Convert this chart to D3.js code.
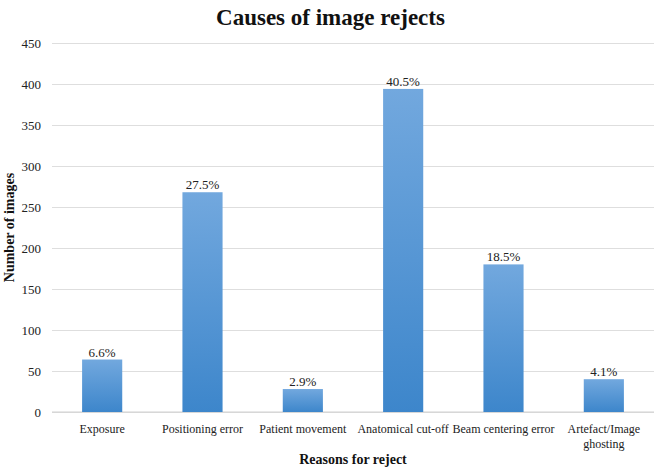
<!DOCTYPE html>
<html>
<head>
<meta charset="utf-8">
<script src="https://cdn.jsdelivr.net/npm/d3@7"></script>
<style>
  body { margin: 0; background: #fff; }
  text { font-family: "Liberation Serif", "Times New Roman", serif; }
</style>
</head>
<body>
<svg id="chart"></svg>
<script>
// data
const reasons = ["Exposure", "Positioning error", "Patient movement", "Anatomical cut-off", "Beam centering error", "Artefact/Image ghosting"];
const counts = [64, 268, 28, 394, 180, 40];
const shares = ["6.6%", "27.5%", "2.9%", "40.5%", "18.5%", "4.1%"];
const yTicks = [0, 50, 100, 150, 200, 250, 300, 350, 400, 450];

const w = 661, h = 471;
const margin = { top: 43, right: 7, bottom: 59, left: 52 };

const svg = d3.select("#chart").attr("width", w).attr("height", h);

const defs = svg.append("defs");
const grad = defs.append("linearGradient")
    .attr("id", "barFill")
    .attr("x1", 0).attr("y1", 0).attr("x2", 0).attr("y2", 1);
grad.append("stop").attr("offset", "0%").attr("stop-color", "#72a8de");
grad.append("stop").attr("offset", "100%").attr("stop-color", "#3d86cb");

const xScale = d3.scaleBand()
    .domain(reasons)
    .range([margin.left, w - margin.right])
    .paddingInner(0.6)
    .paddingOuter(0.3);

const yScale = d3.scaleLinear()
    .domain([0, 450])
    .range([h - margin.bottom, margin.top]);

// gridlines + y labels
const yAxis = g => g
    .attr("transform", `translate(${margin.left},0)`)
    .call(d3.axisLeft(yScale).tickValues(yTicks).tickSize(-(w - margin.left - margin.right)).tickPadding(11))
    .call(g => g.select(".domain").remove())
    .call(g => g.selectAll(".tick line").attr("stroke", "#dedede"))
    .call(g => g.selectAll(".tick text")
        .attr("font-family", "Liberation Serif, serif")
        .attr("font-size", 13)
        .attr("fill", "#222"));
svg.append("g").call(yAxis);

// baseline
svg.append("line")
    .attr("x1", margin.left).attr("x2", w - margin.right)
    .attr("y1", yScale(0)).attr("y2", yScale(0))
    .attr("stroke", "#d0d0d0");

// bars
svg.append("g")
    .selectAll("rect")
    .data(reasons)
    .join("rect")
    .attr("x", d => xScale(d))
    .attr("y", (d, i) => yScale(counts[i]))
    .attr("width", xScale.bandwidth())
    .attr("height", (d, i) => yScale(0) - yScale(counts[i]))
    .attr("fill", "url(#barFill)");

// value labels
svg.append("g")
    .selectAll("text")
    .data(reasons)
    .join("text")
    .attr("x", d => xScale(d) + xScale.bandwidth() / 2)
    .attr("y", (d, i) => yScale(counts[i]) - 3)
    .attr("text-anchor", "middle")
    .attr("font-size", 13)
    .attr("fill", "#222")
    .text((d, i) => shares[i]);

// category labels (wrap the long last one)
const catLabels = svg.append("g")
    .selectAll("text")
    .data(reasons)
    .join("text")
    .attr("x", d => xScale(d) + xScale.bandwidth() / 2)
    .attr("y", yScale(0) + 21)
    .attr("text-anchor", "middle")
    .attr("font-size", 12)
    .attr("fill", "#222");
catLabels.each(function(d) {
    const t = d3.select(this);
    const lines = d === "Artefact/Image ghosting" ? ["Artefact/Image", "ghosting"] : [d];
    lines.forEach((l, k) => {
        t.append("tspan")
            .attr("x", xScale(d) + xScale.bandwidth() / 2)
            .attr("dy", k === 0 ? 0 : 15)
            .text(l);
    });
});

// title
svg.append("text")
    .attr("x", w / 2)
    .attr("y", 25)
    .attr("text-anchor", "middle")
    .attr("font-size", 23)
    .attr("font-weight", "bold")
    .attr("fill", "#111")
    .text("Causes of image rejects");

// axis titles
svg.append("text")
    .attr("x", (margin.left + w - margin.right) / 2)
    .attr("y", 464)
    .attr("text-anchor", "middle")
    .attr("font-size", 14)
    .attr("font-weight", "bold")
    .attr("fill", "#111")
    .text("Reasons for reject");

svg.append("text")
    .attr("transform", `translate(14,${(margin.top + h - margin.bottom) / 2}) rotate(-90)`)
    .attr("text-anchor", "middle")
    .attr("font-size", 14)
    .attr("font-weight", "bold")
    .attr("fill", "#111")
    .text("Number of images");
</script>
</body>
</html>
